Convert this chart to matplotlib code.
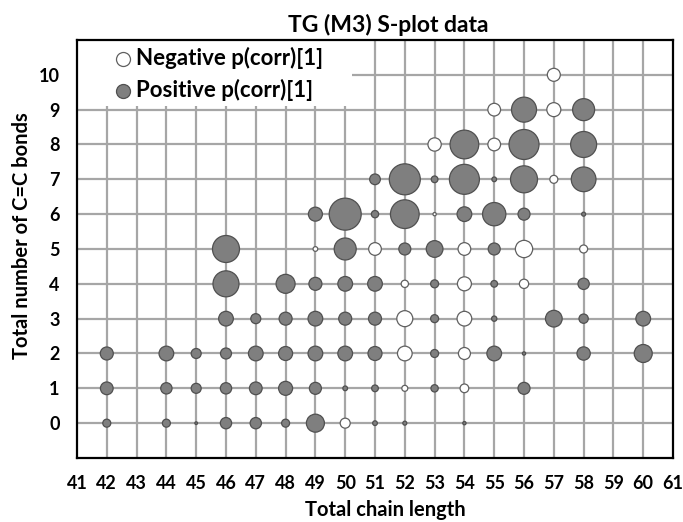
import numpy as np
import matplotlib.pyplot as plt
from matplotlib.patches import Rectangle

plt.rcParams['font.family'] = ['Lato', 'DejaVu Sans']
plt.rcParams['font.weight'] = 'bold'

# negative p(corr)[1] -> white bubbles
neg_chain = [57, 55, 57, 53, 55, 57, 53, 49, 51, 54, 56, 58, 52, 54, 56, 52, 54, 52, 54, 52, 54, 50]
neg_bonds = [10, 9, 9, 8, 8, 7, 6, 5, 5, 5, 5, 5, 4, 4, 4, 3, 3, 2, 2, 1, 1, 0]
neg_size = [13, 12.7, 14, 13.3, 12.7, 8, 3.3, 4.7, 12.7, 12.7, 17.3, 8, 7.3, 14, 9.3, 16, 14.7, 14.7, 12, 6, 8.7, 10]

# positive p(corr)[1] -> grey bubbles
pos_chain = [56, 58,
             54, 56, 58,
             51, 52, 53, 54, 55, 56, 58,
             49, 50, 51, 52, 54, 55, 56, 58,
             46, 50, 52, 53, 55,
             46, 48, 49, 50, 51, 53, 55, 58,
             46, 47, 48, 49, 50, 51, 53, 55, 57, 58, 60,
             42, 44, 45, 46, 47, 48, 49, 50, 51, 53, 55, 56, 58, 60,
             42, 44, 45, 46, 47, 48, 49, 50, 51, 53, 56,
             42, 44, 45, 46, 47, 48, 49, 51, 52, 54]
pos_bonds = [9, 9,
             8, 8, 8,
             7, 7, 7, 7, 7, 7, 7,
             6, 6, 6, 6, 6, 6, 6, 6,
             5, 5, 5, 5, 5,
             4, 4, 4, 4, 4, 4, 4, 4,
             3, 3, 3, 3, 3, 3, 3, 3, 3, 3, 3,
             2, 2, 2, 2, 2, 2, 2, 2, 2, 2, 2, 2, 2, 2,
             1, 1, 1, 1, 1, 1, 1, 1, 1, 1, 1,
             0, 0, 0, 0, 0, 0, 0, 0, 0, 0]
pos_size = [25, 22,
            28.7, 30, 26,
            10.7, 31, 6.7, 30, 4.7, 27, 24.7,
            14, 32, 7.3, 28.7, 14.7, 23.3, 12, 4,
            27, 22, 12, 16.7, 12,
            26, 19, 13, 14.7, 14.7, 8, 6.7, 11.3,
            14.7, 10, 13, 14.7, 13, 13, 8, 5.3, 16.7, 9.3, 14.7,
            13, 14.7, 10, 11, 14.7, 14, 14.7, 14.7, 14, 8, 14.7, 3.3, 13.3, 18,
            12.7, 11.3, 10, 11.3, 12.7, 14, 12, 4.7, 6.7, 7.3, 12,
            8, 8, 2.7, 11.3, 11.3, 8, 18, 4.7, 4, 3.3]

x_ticks = list(range(41, 62))
y_ticks = list(range(0, 11))

def area(d):
    # bubble diameter (px at 100 dpi) -> marker area in pt^2
    return (np.array(d) * 0.72) ** 2

fig = plt.figure(figsize=(6.83, 5.22), dpi=100)
ax = fig.add_axes([0.1127, 0.1226, 0.8727, 0.8008])

ax.scatter(neg_chain, neg_bonds, s=area(neg_size), c='white', edgecolors='#606060',
           linewidths=0.9, zorder=3, label='Negative p(corr)[1]')
ax.scatter(pos_chain, pos_bonds, s=area(pos_size), c='#7f7f7f', edgecolors='#505050',
           linewidths=0.9, zorder=3, label='Positive p(corr)[1]')

ax.set_xlim(41, 61)
ax.set_ylim(-1, 11)
ax.set_xticks(x_ticks)
ax.set_yticks(y_ticks)
for v in x_ticks[1:-1]:
    ax.axvline(v, color='#a6a6a6', lw=1.6, zorder=1)
for v in y_ticks:
    ax.axhline(v, color='#a6a6a6', lw=1.6, zorder=1)

ax.tick_params(axis='both', which='both', length=0, labelsize=13)
ax.tick_params(axis='x', pad=12)
ax.tick_params(axis='y', pad=12.5)
for s in ax.spines.values():
    s.set_linewidth(1.6)
    s.set_color('black')

ax.set_title('TG (M3) S-plot data', fontsize=16.5, fontweight='bold', pad=5.5, x=0.522)
ax.set_xlabel('Total chain length', fontsize=14.5, fontweight='bold')
ax.set_ylabel('Total number of C=C bonds', fontsize=14.5, fontweight='bold')
ax.xaxis.set_label_coords(0.518, -0.1)
ax.yaxis.set_label_coords(-0.0755, 0.531)

# white patch behind the legend hides the grid there
ax.add_patch(Rectangle((0, 0.842), 0.461, 0.158, transform=ax.transAxes,
                       facecolor='white', edgecolor='none', zorder=2))

leg = ax.legend(loc='upper left', bbox_to_anchor=(0.064, 0.983), fontsize=16,
                frameon=False, borderaxespad=0.0, borderpad=0.0,
                handlelength=0.72, handletextpad=0.22, labelspacing=0.45,
                scatterpoints=1)
for h in leg.legend_handles:
    h.set_sizes([area(14)])

fig.savefig('out.png', dpi=100)
